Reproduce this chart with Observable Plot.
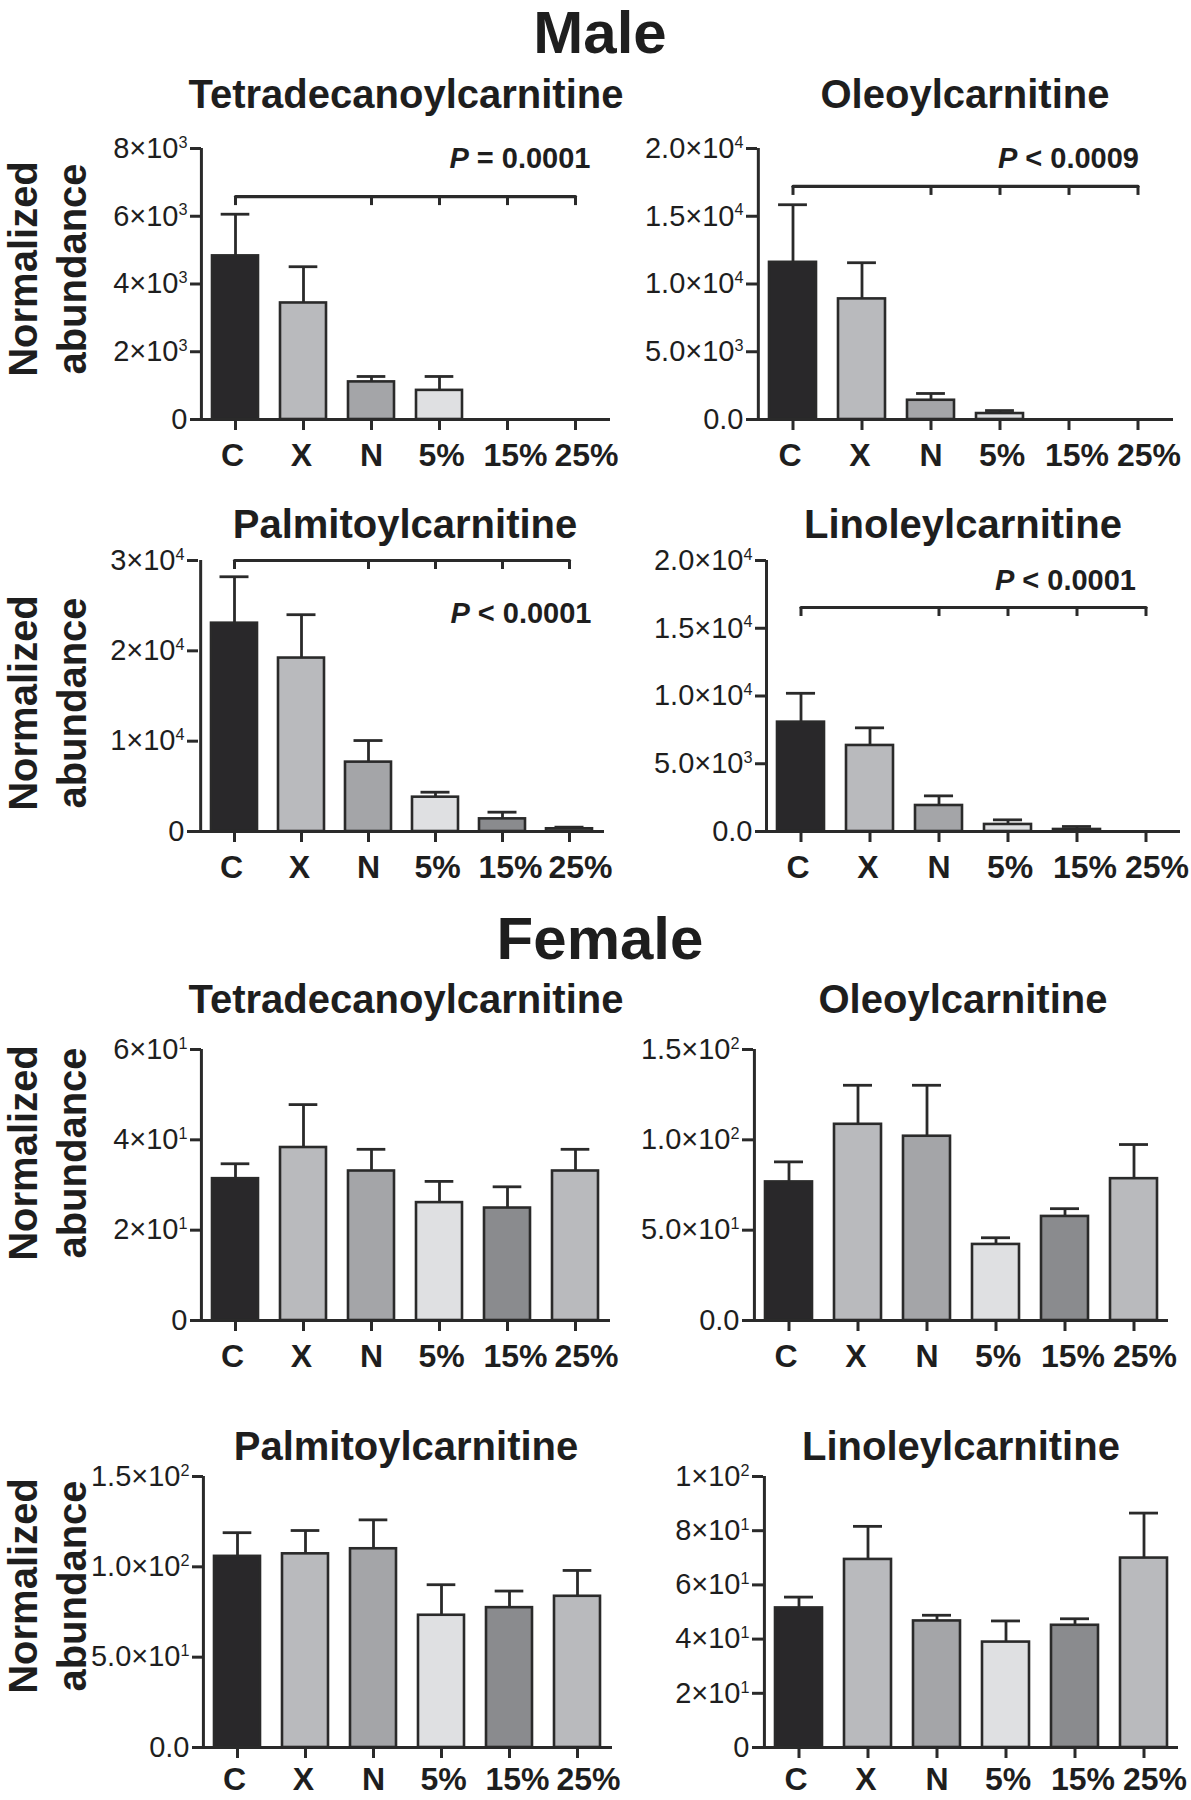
<!DOCTYPE html>
<html><head><meta charset="utf-8">
<script src="https://cdn.jsdelivr.net/npm/d3@7"></script>
<script src="https://cdn.jsdelivr.net/npm/@observablehq/plot@0.6"></script>
<style>
body{margin:0;background:#fff;}
#wrap{position:relative;width:1191px;height:1800px;overflow:hidden;font-family:'Liberation Sans',Arial,Helvetica,sans-serif;}
#wrap svg{position:absolute;overflow:visible;}
g[aria-label="x-axis tick label"] text{font-weight:bold;}
</style></head><body><div id="wrap"></div><script>
// ---------- DATA ----------
const cats = ["C", "X", "N", "5%", "15%", "25%"];
const barFills = ["#29282a", "#b9babd", "#a4a5a8", "#dfe0e2", "#8a8b8e", "#b9babd"];

const panelTitles = ["Tetradecanoylcarnitine", "Oleoylcarnitine", "Palmitoylcarnitine", "Linoleylcarnitine",
                     "Tetradecanoylcarnitine", "Oleoylcarnitine", "Palmitoylcarnitine", "Linoleylcarnitine"];
const sexTitles = ["Male", "Female"];
const yTitle = ["Normalized", "abundance"];

// Male
const maleTetraMean = [4830, 3440, 1110, 860, 0, 0];
const maleTetraSem  = [1230, 1070, 160, 410, 0, 0];
const maleOleoMean  = [11600, 8900, 1420, 440, 0, 0];
const maleOleoSem   = [4250, 2670, 500, 220, 0, 0];
const malePalmMean  = [23060, 19200, 7680, 3800, 1400, 300];
const malePalmSem   = [5140, 4800, 2390, 550, 740, 180];
const maleLinoMean  = [8070, 6350, 1920, 520, 150, 0];
const maleLinoSem   = [2130, 1300, 710, 340, 220, 0];
// Female
const femTetraMean = [31.4, 38.3, 33.1, 26.1, 24.9, 33.1];
const femTetraSem  = [3.3, 9.5, 4.8, 4.7, 4.7, 4.8];
const femOleoMean  = [76.7, 108.6, 102.0, 42.1, 57.6, 78.5];
const femOleoSem   = [11.1, 21.6, 28.2, 3.7, 4.3, 18.9];
const femPalmMean  = [105.8, 107.2, 110.0, 73.2, 77.4, 83.7];
const femPalmSem   = [13.1, 12.9, 16.0, 16.9, 9.2, 14.3];
const femLinoMean  = [51.5, 69.4, 46.7, 38.9, 45.1, 69.9];
const femLinoSem   = [4.0, 12.2, 2.1, 7.8, 2.4, 16.6];

// y ticks
const ticksA = [0, 2000, 4000, 6000, 8000];
const labelsA = ["0", "2×10³", "4×10³", "6×10³", "8×10³"];
const ticksB = [0, 5000, 10000, 15000, 20000];
const labelsB = ["0.0", "5.0×10³", "1.0×10⁴", "1.5×10⁴", "2.0×10⁴"];
const ticksC = [0, 10000, 20000, 30000];
const labelsC = ["0", "1×10⁴", "2×10⁴", "3×10⁴"];
const ticksD = [0, 20, 40, 60];
const labelsD = ["0", "2×10¹", "4×10¹", "6×10¹"];
const ticksE = [0, 50, 100, 150];
const labelsE = ["0.0", "5.0×10¹", "1.0×10²", "1.5×10²"];
const ticksF = [0, 20, 40, 60, 80, 100];
const labelsF = ["0", "2×10¹", "4×10¹", "6×10¹", "8×10¹", "1×10²"];

// significance annotations (male panels)
const pTexts = ["P = 0.0001", "P < 0.0009", "P < 0.0001", "P < 0.0001"];
const pTextY = [7700, 19250, 24100, 18500];
const bracketY = [6580, 17200, 30000, 16530];
const bracketEnds = ["C", "25%"];
const bracketTicks = ["C", "N", "5%", "15%", "25%"];

// ---------- LAYOUT ----------
const layout = [
  {axisX: 201, bandEnd: 610, yTop: 148, yZero: 419, pdx: 15, lp: 13},
  {axisX: 757, bandEnd: 1173, yTop: 148, yZero: 419, pdx: 1, lp: 13},
  {axisX: 198, bandEnd: 604, yTop: 560, yZero: 831, pdx: 22, lp: 13},
  {axisX: 766, bandEnd: 1180, yTop: 560, yZero: 831, pdx: -10, lp: 13},
  {axisX: 201, bandEnd: 610, yTop: 1049, yZero: 1320, lp: 13},
  {axisX: 753, bandEnd: 1168, yTop: 1049, yZero: 1320, lp: 13},
  {axisX: 203, bandEnd: 612, yTop: 1476, yZero: 1747, lp: 9},
  {axisX: 763, bandEnd: 1178, yTop: 1476, yZero: 1747, lp: 9}
];
const catLabelShift = [-3, -2, 0, 2, 8, 11];
const subtitlePos = [[406,108],[965,108],[405,538],[963,538],[406,1013],[963,1013],[406,1460],[961,1460]];
const sexTitlePos = [[600,53],[600,959]];
const yTitleRows = [269, 703, 1153, 1586];

const panels = [
  {mean: maleTetraMean, sem: maleTetraSem, ticks: ticksA, labels: labelsA, sig: 0},
  {mean: maleOleoMean,  sem: maleOleoSem,  ticks: ticksB, labels: labelsB, sig: 1},
  {mean: malePalmMean,  sem: malePalmSem,  ticks: ticksC, labels: labelsC, sig: 2},
  {mean: maleLinoMean,  sem: maleLinoSem,  ticks: ticksB, labels: labelsB, sig: 3},
  {mean: femTetraMean,  sem: femTetraSem,  ticks: ticksD, labels: labelsD},
  {mean: femOleoMean,   sem: femOleoSem,   ticks: ticksE, labels: labelsE},
  {mean: femPalmMean,   sem: femPalmSem,   ticks: ticksE, labels: labelsE},
  {mean: femLinoMean,   sem: femLinoSem,   ticks: ticksF, labels: labelsF}
];

const INK = "#2a2a2a";
const wrap = document.getElementById("wrap");
const SUPMAP = {"⁰":"0","¹":"1","²":"2","³":"3","⁴":"4","⁵":"5","⁶":"6","⁷":"7","⁸":"8","⁹":"9"};
const NS = "http://www.w3.org/2000/svg";

function supify(el) {
  const s = el.textContent;
  const m = s.match(/^(.*×10)([⁰¹²³⁴⁵⁶⁷⁸⁹]+)$/);
  if (!m) return;
  el.textContent = "";
  const a = document.createElementNS(NS, "tspan"); a.textContent = m[1]; el.appendChild(a);
  const b = document.createElementNS(NS, "tspan");
  b.textContent = m[2].split("").map(c => SUPMAP[c]).join("");
  b.setAttribute("font-size", "0.56em"); b.setAttribute("dy", "-0.62em");
  el.appendChild(b);
}
function italicP(el) {
  const s = el.textContent;
  if (!/^P [=<]/.test(s)) return;
  el.textContent = "";
  const a = document.createElementNS(NS, "tspan"); a.textContent = "P"; a.setAttribute("font-style", "italic"); el.appendChild(a);
  const b = document.createElementNS(NS, "tspan"); b.textContent = s.slice(1); el.appendChild(b);
}

panels.forEach((p, k) => {
  const L = layout[k];
  const ML = 115, MR = 30, MT = 34, MB = 62;
  const W = ML + (L.bandEnd - L.axisX) + MR;
  const H = MT + (L.yZero - L.yTop) + MB;
  const step = (L.bandEnd - L.axisX) / cats.length;
  const ymax = p.ticks[p.ticks.length - 1];
  const data = cats.map((c, i) => ({cat: c, mean: p.mean[i], sem: p.sem[i]}));
  const errData = data.filter(d => d.sem > 0);
  const bw = step * 0.68;
  const capInset = (bw - 29) / 2;

  const marks = [
    Plot.ruleX(errData, {x: "cat", y1: "mean", y2: d => d.mean + d.sem, stroke: INK, strokeWidth: 2.8}),
    Plot.tickY(errData, {x: "cat", y: d => d.mean + d.sem, stroke: INK, strokeWidth: 2.8, insetLeft: capInset, insetRight: capInset}),
    Plot.barY(data, {x: "cat", y: "mean", fill: "cat", stroke: INK, strokeWidth: 2.6}),
    Plot.ruleY([0], {stroke: INK, strokeWidth: 3, insetLeft: -10}),
    Plot.ruleX(["C"], {x: d => d, y1: 0, y2: ymax, dx: -step / 2, stroke: INK, strokeWidth: 3}),
    Plot.axisY({ticks: p.ticks, tickFormat: d => p.labels[p.ticks.indexOf(d)], tickSize: 11, tickPadding: 3,
                fontSize: 29, strokeWidth: 3, stroke: INK, label: null, fill: "#1e1e1e"}),
    Plot.axisX({tickSize: 11, tickPadding: L.lp, fontSize: 32, fontWeight: "bold", strokeWidth: 3, stroke: INK, label: null, fill: "#1e1e1e"})
  ];
  if (p.sig !== undefined) {
    const s = p.sig;
    marks.push(
      Plot.line(bracketEnds.map(c => ({cat: c, v: bracketY[s]})), {x: "cat", y: "v", stroke: INK, strokeWidth: 3.2}),
      Plot.ruleX(bracketTicks, {x: d => d, y1: bracketY[s], y2: bracketY[s], insetBottom: -9, stroke: INK, strokeWidth: 3}),
      Plot.text([{cat: "25%", v: pTextY[s], t: pTexts[s]}], {x: "cat", y: "v", text: "t", textAnchor: "end",
        dx: L.pdx, fontSize: 29, fontWeight: "bold", fill: "#1e1e1e"})
    );
  }
  const svg = Plot.plot({
    width: W, height: H, marginLeft: ML, marginRight: MR, marginTop: MT, marginBottom: MB,
    x: {domain: cats, paddingInner: 0.32, paddingOuter: 0.16, axis: null},
    y: {domain: [0, ymax], axis: null},
    color: {domain: cats, range: barFills},
    style: {fontFamily: "'Liberation Sans', Arial, Helvetica, sans-serif", background: "transparent", overflow: "visible", color: "#1e1e1e"},
    marks
  });
  svg.style.left = (L.axisX - ML) + "px";
  svg.style.top = (L.yTop - MT) + "px";
  wrap.appendChild(svg);
  svg.querySelectorAll('g[aria-label="y-axis tick label"] text').forEach(supify);
  svg.querySelectorAll('g[aria-label="x-axis tick label"] text').forEach((t, i) => {
    const tr = t.getAttribute("transform") || "";
    t.setAttribute("transform", (tr + ` translate(${catLabelShift[i] || 0},0)`).trim());
  });
  svg.querySelectorAll("text").forEach(italicP);
});

// overlay texts
const ov = d3.select(wrap).append("svg").attr("width", 1191).attr("height", 1800)
  .style("left", "0px").style("top", "0px")
  .attr("font-family", "'Liberation Sans', Arial, Helvetica, sans-serif").attr("fill", "#1e1e1e");
sexTitles.forEach((t, i) => ov.append("text").attr("x", sexTitlePos[i][0]).attr("y", sexTitlePos[i][1])
  .attr("text-anchor", "middle").attr("font-size", 60).attr("font-weight", "bold").text(t));
panelTitles.forEach((t, i) => ov.append("text").attr("x", subtitlePos[i][0]).attr("y", subtitlePos[i][1])
  .attr("text-anchor", "middle").attr("font-size", 40).attr("font-weight", "bold").text(t));
yTitleRows.forEach(cy => {
  [[37, yTitle[0]], [86, yTitle[1]]].forEach(([x, t]) => {
    ov.append("text").attr("x", x).attr("y", cy).attr("transform", `rotate(-90,${x},${cy})`)
      .attr("text-anchor", "middle").attr("font-size", 40).attr("font-weight", "bold").text(t);
  });
});
</script></body></html>
